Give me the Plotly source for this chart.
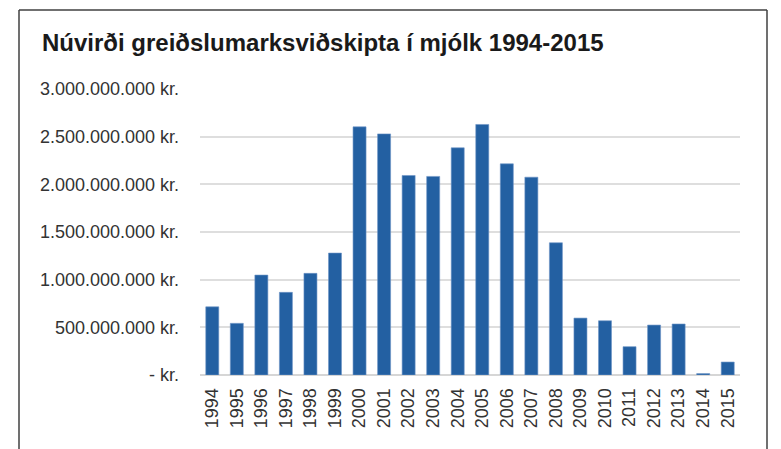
import plotly.graph_objects as go

years = [str(y) for y in range(1994, 2016)]
values = [715e6, 542e6, 1048e6, 867e6, 1066e6, 1279e6, 2603e6, 2529e6, 2093e6, 2083e6,
          2383e6, 2628e6, 2215e6, 2075e6, 1387e6, 597e6, 569e6, 297e6, 524e6, 535e6,
          15e6, 136e6]
tick_vals = [0, 500e6, 1000e6, 1500e6, 2000e6, 2500e6, 3000e6]
tick_text = ["- kr.", "500.000.000 kr.", "1.000.000.000 kr.", "1.500.000.000 kr.",
             "2.000.000.000 kr.", "2.500.000.000 kr.", "3.000.000.000 kr."]
title = "Núvirði greiðslumarksviðskipta í mjólk 1994-2015"

# page body has an 8px margin; figure is sized/positioned to compensate
OFF = 8
W, H = 781 - OFF, 449 - OFF
L, R, T, B = 200 - OFF, 41, 89 - OFF, 74
pw, ph = W - L - R, H - T - B

def px(x):
    return (x - OFF - L) / pw

def py(y):
    return (H - B - (y - OFF)) / ph

fig = go.Figure(go.Bar(
    x=years, y=values,
    marker=dict(color="#2360A2", line=dict(color="#6d93c6", width=0.6)),
))

frame = dict(type="line", xref="paper", yref="paper",
             line=dict(color="#404040", width=1.5))
fig.update_layout(
    width=W, height=H,
    margin=dict(l=L, r=R, t=T, b=B),
    plot_bgcolor="white", paper_bgcolor="white",
    bargap=0.47,
    showlegend=False,
    font=dict(family="Liberation Sans, Arial, sans-serif", color="#333333"),
    title=dict(text="<b>" + title + "</b>", x=(42 - OFF) / W, xanchor="left",
               y=1 - (43 - OFF) / H, yanchor="middle", xref="container", yref="container",
               font=dict(family="Liberation Sans, Arial", size=24, color="#1a1a1a")),
    xaxis=dict(tickangle=-90, tickfont=dict(size=18, color="#333333"),
               showgrid=False, showline=False, ticks="outside", ticklen=5, tickcolor="white"),
    yaxis=dict(range=[0, 3000e6], tickvals=tick_vals, ticktext=tick_text,
               tickfont=dict(size=18, color="#333333"),
               gridcolor="#dedede", gridwidth=1.5,
               zeroline=True, zerolinecolor="#d6d6d6", zerolinewidth=2,
               ticklabelstandoff=20),
    shapes=[
        dict(frame, x0=px(19), x1=px(19), y0=py(10), y1=py(449)),
        dict(frame, x0=px(19), x1=px(767), y0=py(10), y1=py(10)),
        dict(frame, x0=px(767), x1=px(767), y0=py(10), y1=py(449)),
    ],
)

fig.write_html("out.html")
